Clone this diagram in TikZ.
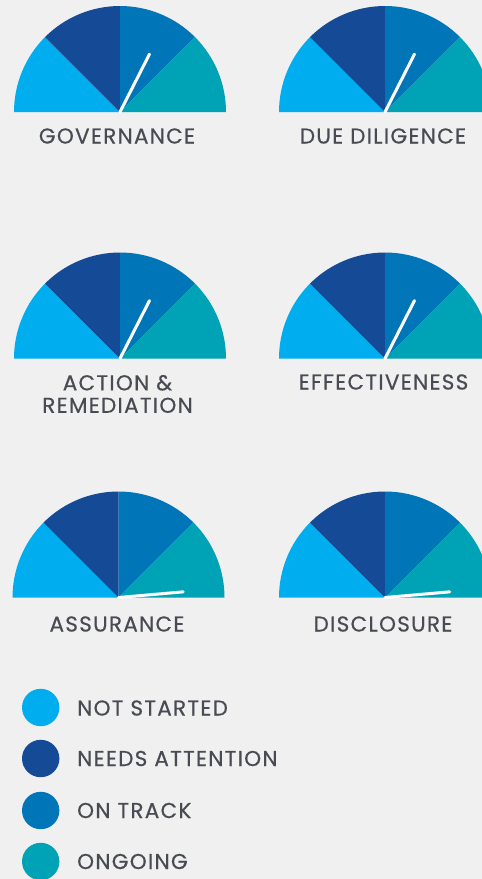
\documentclass[tikz,border=0pt]{standalone}
\usepackage{fontspec}
\setmainfont{Poppins}
\newfontfamily\labfont{Poppins}[LetterSpace=6, FakeBold=0.5]
\definecolor{bg}{RGB}{240,240,240}
\definecolor{cNot}{RGB}{0,173,238}
\definecolor{cNeed}{RGB}{21,74,150}
\definecolor{cTrack}{RGB}{0,117,184}
\definecolor{cOn}{RGB}{0,163,181}
\definecolor{txt}{RGB}{72,75,82}
\newcommand\mygauge[3]{%
  \fill[cNot] (#1,#2) -- ++(180:106) arc[start angle=180,end angle=135,radius=106] -- cycle;
  \fill[cNeed] (#1,#2) -- ++(135:106) arc[start angle=135,end angle=90,radius=106] -- cycle;
  \fill[cTrack] (#1,#2) -- ++(90:106) arc[start angle=90,end angle=45,radius=106] -- cycle;
  \fill[cOn] (#1,#2) -- ++(45:106) arc[start angle=45,end angle=0,radius=106] -- cycle;
  \draw[needle] (#1,#2) -- ++(#3:65);
}
\tikzset{
  needle/.style={white, line width=3pt, line cap=round},
  glabel/.style={text=txt, font=\labfont\fontsize{21.5}{22.5}\selectfont, align=center, inner sep=0pt},
  legdot/.style={circle, minimum size=37.4pt, inner sep=0pt},
  legtext/.style={text=txt, font=\labfont\fontsize{21.5}{22}\selectfont, anchor=west, inner sep=0pt},
}
\begin{document}
\begin{tikzpicture}[x=1pt,y=1pt]
\useasboundingbox (0,0) rectangle (482,-879);
\fill[bg] (0,0) rectangle (482,-879);
\begin{scope}
\clip (0,0) rectangle (482,-879);
\mygauge{120}{-112}{63}
\mygauge{385}{-112}{63}
\mygauge{120}{-358.5}{63}
\mygauge{385}{-358.5}{63}
\mygauge{118.5}{-597.5}{5}
\mygauge{385}{-597.5}{5}
\end{scope}
\node[glabel] (l1) at (117,-136) {GOVERNANCE};
\node[glabel] (l2) at (383,-136) {DUE DILIGENCE};
\node[glabel] (l3) at (117.5,-394) {ACTION \&\\REMEDIATION};
\node[glabel] (l4) at (383.5,-382) {EFFECTIVENESS};
\node[glabel] (l5) at (117,-624) {ASSURANCE};
\node[glabel] (l6) at (383,-624) {DISCLOSURE};
\node[legdot, fill=cNot] (d1) at (40.7,-707.5) {};
\node[legdot, fill=cNeed] (d2) at (40.7,-758.5) {};
\node[legdot, fill=cTrack] (d3) at (40.7,-810.5) {};
\node[legdot, fill=cOn] (d4) at (40.7,-861.5) {};
\node[legtext] (t1) at (77,-708) {NOT STARTED};
\node[legtext] (t2) at (77,-758.5) {NEEDS ATTENTION};
\node[legtext] (t3) at (77,-810.5) {ON TRACK};
\node[legtext] (t4) at (77,-861.5) {ONGOING};
\end{tikzpicture}
\end{document}
